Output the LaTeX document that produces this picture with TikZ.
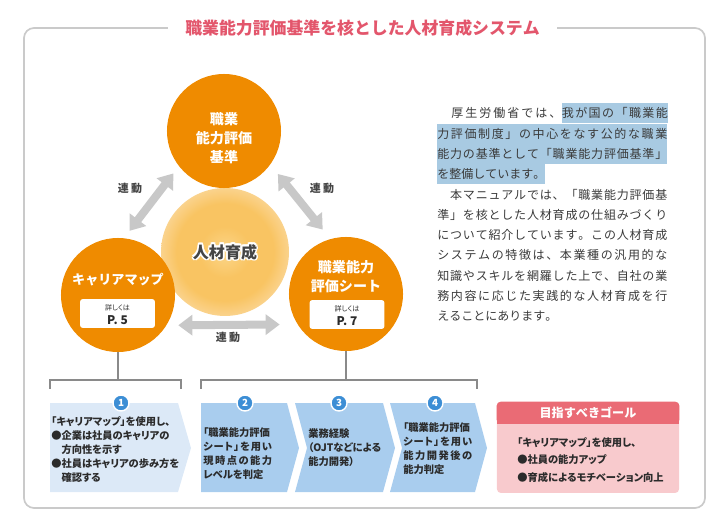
\documentclass[tikz,border=0pt]{standalone}
\usepackage{fontspec}
\setmainfont{Noto Sans CJK JP}[RawFeature={+palt}]
\newfontfamily\jpmono{Noto Sans CJK JP}
\usetikzlibrary{arrows.meta, calc, positioning}

\definecolor{hubOrange}{HTML}{EF8B00}
\definecolor{linkGray}{HTML}{C8C8C8}
\definecolor{lineGray}{HTML}{8A8A8A}
\definecolor{frameGray}{HTML}{CACACA}
\definecolor{titleRed}{HTML}{E3566C}
\definecolor{stepLight}{HTML}{DCE9F7}
\definecolor{stepBlue}{HTML}{A9CDEE}
\definecolor{numBlue}{HTML}{3C8ED5}
\definecolor{goalHead}{HTML}{EA6B75}
\definecolor{goalBody}{HTML}{F8CACD}
\definecolor{hlBlue}{HTML}{A8CAE2}
\definecolor{txtDark}{HTML}{2B2B2B}
\definecolor{txtMid}{HTML}{454545}
\definecolor{txtPara}{HTML}{3A3A3A}
\definecolor{glowIn}{HTML}{FBD68A}
\definecolor{glowMid}{HTML}{F9C462}
\definecolor{glowEdge}{HTML}{FBDAA2}
\definecolor{glowFade}{HTML}{FEF2E0}

\pgfdeclareradialshading{glowshade}{\pgfpoint{0bp}{0bp}}{color(0bp)=(glowIn); color(10bp)=(glowMid); color(19bp)=(glowMid); color(28bp)=(glowEdge); color(38bp)=(glowFade); color(46bp)=(white); color(50bp)=(white)}

% stretchable glue between Japanese characters, for justified lines
\newcount\jcc
\jcc="3000 \loop\XeTeXcharclass\jcc=1 \advance\jcc by 1 \ifnum\jcc<"3100 \repeat
\jcc="4E00 \loop\XeTeXcharclass\jcc=1 \advance\jcc by 1 \ifnum\jcc<"A000 \repeat
\jcc="FF00 \loop\XeTeXcharclass\jcc=1 \advance\jcc by 1 \ifnum\jcc<"FFF0 \repeat
\XeTeXinterchartoks 1 1 = {\hskip 0pt plus 1.5pt minus 0.5pt\relax}
\XeTeXinterchartokenstate=1
\newcommand{\jline}[2]{\makebox[#1][s]{#2}}

\begin{document}
\begin{tikzpicture}[x=0.025cm, y=-0.025cm,
    hub/.style={circle, fill=hubOrange, minimum size=81.1pt, inner sep=0pt},
    hubtext/.style={text=white, align=center, inner sep=0pt, font=\jpmono\bfseries\fontsize{10}{13.5}\selectfont},
    pagebox/.style={fill=white, rounded corners=2pt, minimum width=53.3pt, minimum height=20.6pt, inner sep=0pt},
    pagesmall/.style={text=txtDark, inner sep=0pt, font=\fontsize{5}{6}\selectfont},
    pagenum/.style={text=txtDark, inner sep=0pt, font=\bfseries\fontsize{8.5}{9}\selectfont},
    link/.style={draw=linkGray, line width=5.7pt, {Triangle[width=14.2pt,length=10pt]}-{Triangle[width=14.2pt,length=10pt]}},
    linklabel/.style={text=txtMid, inner sep=0pt, font=\jpmono\bfseries\fontsize{7.8}{9}\selectfont},
    coretext/.style={text=txtMid, inner sep=0pt, font=\jpmono\bfseries\fontsize{11.4}{13}\selectfont},
    bracket/.style={draw=lineGray, line width=0.9pt},
    para/.style={anchor=west, inner xsep=0pt, inner ysep=2.9pt, text height=7.5pt, text depth=1pt, text=txtPara, font=\jpmono\fontsize{8.54}{10}\selectfont},
    hlpara/.style={para, fill=hlBlue},
    steptext/.style={anchor=north west, align=left, inner sep=0pt, text=txtDark, font=\bfseries\fontsize{7.3}{10}\selectfont},
    numdot/.style={circle, fill=numBlue, draw=white, line width=1pt, minimum size=11.4pt, inner sep=0pt, text=white, font=\bfseries\fontsize{7}{8}\selectfont},
    goaltext/.style={anchor=north west, align=left, inner sep=0pt, text=txtDark, font=\bfseries\fontsize{7.3}{12.4}\selectfont},
]
\useasboundingbox (0,0) rectangle (724,524);

% frame and title
\draw[frameGray, line width=1.2pt, rounded corners=7.1pt] (24,28) rectangle (705,508);
\node[fill=white, inner xsep=12.1pt, inner ysep=2pt, text=titleRed, font=\jpmono\bfseries\fontsize{12}{14}\selectfont] (title) at (362.5,28) {職業能力評価基準を核とした人材育成システム};

% glow in the middle
\node[circle, minimum size=91pt, inner sep=0pt, shading=glowshade] (core) at (225,252) {};
\foreach \a in {0,45,...,315}
    \node[coretext, text=white] (halo\a) at ($(core)+(\a:1.2pt)$) {人材育成};
\node[coretext] (coreT) at (core) {人材育成};

% three circles
\node[hub] (kijun) at (224,131) {};
\node[hubtext] (kijunT) at (224,138) {職業\\能力評価\\基準};

\node[hub] (cmap) at (118,295) {};
\node[hubtext, font=\jpmono\bfseries\fontsize{9.3}{11}\selectfont] (cmapT) at (118,280) {キャリアマップ};
\node[pagebox] (cmapP) at (117.5,313.5) {};
\node[pagesmall] (cmapS) at (117.5,307.5) {詳しくは};
\node[pagenum] (cmapN) at (117.5,320.5) {P. 5};

\node[hub] (sheet) at (346,294) {};
\node[hubtext] (sheetT) at (346,276.5) {職業能力\\評価シート};
\node[pagebox] (sheetP) at (347,314.5) {};
\node[pagesmall] (sheetS) at (347,308.5) {詳しくは};
\node[pagenum] (sheetN) at (347,321.5) {P. 7};

% links
\draw[link, shorten <=6.4pt, shorten >=6.4pt] (kijun.218) -- (cmap.84);
\draw[link, shorten <=8.5pt, shorten >=8.5pt] (kijun.-36) -- (sheet.106);
\draw[link, shorten <=8.3pt, shorten >=12.6pt] (cmap.-32) -- (sheet.212);
\node[linklabel] (lnkL) at (130,188) {連 動};
\node[linklabel] (lnkR) at (322,188) {連 動};
\node[linklabel] (lnkB) at (228,337) {連 動};

% brackets
\draw[bracket] (cmap.south) -- (cmap.south |- 0,380);
\draw[bracket] (sheet.south) -- (sheet.south |- 0,380);
\draw[bracket] (50,389) -- (50,380) -- (181,380) -- (181,389);
\draw[bracket] (201,389) -- (201,380) -- (477,380) -- (477,389);

% steps
\fill[stepLight] (50,403) -- (178,403) -- (191,448) -- (178,492) -- (50,492) -- cycle;
\fill[stepBlue] (201,403) -- (287,403) -- (299,448) -- (287,492) -- (201,492) -- cycle;
\fill[stepBlue] (295,403) -- (383,403) -- (395,448) -- (383,492) -- (295,492) -- (307,448) -- cycle;
\fill[stepBlue] (390,403) -- (475,403) -- (487,448) -- (475,492) -- (390,492) -- (402,448) -- cycle;

\node[numdot] (n1) at (121,403) {1};
\node[numdot] (n2) at (245,403) {2};
\node[numdot] (n3) at (339,403) {3};
\node[numdot] (n4) at (435,403) {4};

\node[steptext] (s1) at (51,416) {「キャリアマップ」を使用し、\\●企業は社員のキャリアの\\\phantom{●}方向性を示す\\●社員はキャリアの歩み方を\\\phantom{●}確認する};
\node[steptext] (s2) at (203,427) {「職業能力評価\\\jline{49pt}{シート」を用い}\\\jline{49pt}{現時点の能力}\\レベルを判定};
\node[steptext] (s3) at (308,428) {業務経験\\（OJTなどによる\\能力開発）};
\node[steptext] (s4) at (403,422) {「職業能力評価\\\jline{49pt}{シート」を用い}\\\jline{49pt}{能力開発後の}\\能力判定};

% goal
\node[fill=goalBody, rounded corners=2.8pt, minimum width=129.5pt, minimum height=64.7pt, inner sep=0pt] (goal) at (588,447.5) {};
\fill[goalHead, rounded corners=2.8pt] (goal.north west) rectangle ($(goal.north east)+(0,22)$);
\fill[goalHead] ($(goal.north west)+(0,11)$) rectangle ($(goal.north east)+(0,22)$);
\node[text=white, inner sep=0pt, font=\jpmono\bfseries\fontsize{8.6}{10}\selectfont] (goalH) at ($(goal.north)+(0,11)$) {目指すべきゴール};
\node[goaltext] (goalT) at (517,437) {「キャリアマップ」を使用し、\\●社員の能力アップ\\●育成によるモチベーション向上};

% text on the right
\node[para] (p1a) at (437,113.3) {\jline{88.2pt}{　厚生労働省では、}};
\node[hlpara, right=0pt of p1a] (p1b) {\jline{75.4pt}{我が国の「職業能}};
\node[hlpara] (p2) at (437,133.6) {\jline{163.6pt}{力評価制度」の中心をなす公的な職業}};
\node[hlpara] (p3) at (437,153.9) {\jline{163.6pt}{能力の基準として「職業能力評価基準」}};
\node[hlpara] (p4) at (437,174.2) {を整備しています。};
\foreach \n/\t in {5/{　本マニュアルでは、「職業能力評価基},6/{準」を核とした人材育成の仕組みづくり},7/{について紹介しています。この人材育成},8/{システムの特徴は、本業種の汎用的な},9/{知識やスキルを網羅した上で、自社の業},10/{務内容に応じた実践的な人材育成を行}}
    \node[para] (p\n) at (437,{113.3+20.3*(\n-1)}) {\jline{163.6pt}{\t}};
\node[para] (p11) at (437,316.3) {えることにあります。};
\end{tikzpicture}
\end{document}
